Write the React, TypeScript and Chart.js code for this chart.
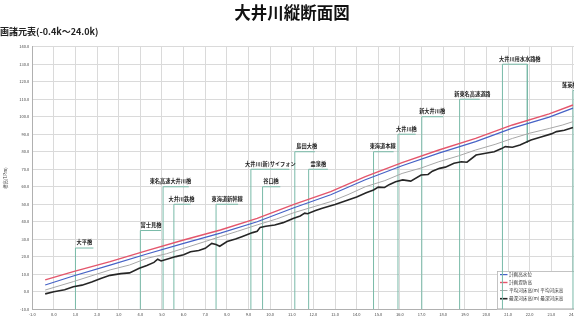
import React, { useEffect, useRef } from "react";
import { Chart, registerables } from "chart.js";

Chart.register(...registerables);

const FONT = '"Noto Sans CJK JP", "Noto Sans", sans-serif';

const chartTitle = "大井川縦断面図";
const subTitle = "画諸元表(-0.4k～24.0k)";
const yAxisTitle = "標高(T.P.m)";

const xMin = -1;
const xMax = 25;
const yMin = -10;
const yMax = 140;

// 計画堤防高 / 計画高水位
const planKm = [-0.4, 0.9, 2.6, 4.3, 6.0, 7.7, 9.4, 11.1, 12.8, 14.4, 16.1, 17.8, 19.5, 21.2, 22.9, 24.0];
const leveeHeight = [6.8, 11.5, 17.2, 23.5, 29.6, 35.3, 41.9, 49.9, 57.2, 65.8, 73.8, 81.0, 87.6, 95.3, 101.6, 106.7];
const highWater = [3.9, 9.0, 15.2, 21.6, 27.7, 33.5, 40.0, 48.0, 55.4, 64.0, 72.0, 79.2, 85.8, 93.5, 99.8, 104.9];

// 平均河床高
const avgBedKm = [-0.4, 0.9, 2.6, 3.5, 4.3, 5.2, 6.0, 7.7, 8.5, 9.4, 10.3, 11.1, 12.8, 13.6, 14.4, 15.3, 16.1, 17.0, 17.8, 18.7, 19.5, 20.4, 21.2, 22.0, 22.9, 23.5, 24.0];
const avgBed = [1.0, 5.8, 12.5, 15.3, 19.1, 21.7, 24.8, 31.5, 34.6, 38.2, 41.6, 45.2, 51.5, 55.5, 60.0, 63.5, 67.6, 70.8, 74.3, 77.6, 81.0, 84.2, 87.6, 90.6, 93.3, 95.2, 97.2];

// 最深河床高
const deepBedKm = [-0.4, 0.0, 0.5, 0.9, 1.3, 1.75, 2.2, 2.6, 3.1, 3.5, 3.95, 4.3, 4.63, 4.8, 4.96, 5.3, 5.64, 6.0, 6.32, 6.7, 7.0, 7.3, 7.5, 7.67, 8.01, 8.4, 8.69, 9.19, 9.4, 9.54, 9.8, 10.21, 10.6, 11.06, 11.39, 11.6, 11.73, 12.1, 12.41, 13.0, 13.6, 14.0, 14.44, 14.78, 15.0, 15.29, 15.5, 15.8, 16.13, 16.5, 16.98, 17.3, 17.5, 17.83, 18.1, 18.5, 18.84, 19.1, 19.52, 19.9, 20.36, 20.7, 20.87, 21.2, 21.55, 22.06, 22.56, 23.0, 23.24, 23.6, 24.0];
const deepBed = [-1.2, 0.0, 1.2, 2.9, 3.8, 5.6, 7.8, 9.4, 10.4, 10.8, 13.4, 15.0, 16.8, 18.6, 17.6, 18.9, 20.1, 21.2, 22.9, 23.6, 24.8, 27.6, 27.0, 26.0, 28.7, 30.2, 31.5, 33.8, 34.6, 36.8, 37.4, 38.2, 39.5, 41.9, 43.3, 44.9, 44.6, 46.4, 47.7, 49.8, 52.4, 54.2, 56.6, 58.2, 59.8, 59.6, 61.2, 62.9, 63.9, 63.2, 66.7, 67.0, 68.9, 70.5, 71.2, 73.4, 74.3, 74.0, 78.1, 79.0, 80.0, 81.8, 82.9, 82.6, 83.9, 86.7, 88.6, 90.2, 91.5, 92.3, 93.9];

const seriesLabels = ["計画高水位", "計画堤防高", "平均河床高(m) 平均河床高", "最深河床高(m) 最深河床高"];
const seriesColors = ["#4662c6", "#e4566c", "#a8a8a8", "#262626"];
const seriesWidths = [1.2, 1.4, 1.0, 1.6];

// 横断構造物
const structNames = ["大平橋", "富士見橋", "東名高速大井川橋", "大井川鉄橋", "東海道新幹線", "大井川(新)サイフォン", "谷口橋", "島田大橋", "霊泉橋", "東海道本線", "大井川橋", "新大井川橋", "新東名高速道路", "大井川用水水路橋", "蓬莱橋"];
const structKm = [1.0, 4.0, 5.05, 5.55, 7.5, 9.11, 9.65, 11.14, 11.78, 14.78, 15.91, 17.01, 18.76, 20.74, 24.0];
const structTop = [25, 35, 60, 50, 50, 70, 60, 80, 70, 80, 90, 100, 110, 130, 115];
const structEndKm = [1.83, 4.96, 6.24, 6.32, 8.52, 10.89, 10.47, 12.07, 12.67, 15.71, 16.73, 18.0, 19.69, 21.89, 25.3];
const structLabelKm = [1.41, 4.49, 5.39, 5.9, 8.01, 10.01, 10.04, 11.69, 12.23, 15.2, 16.3, 17.49, 19.35, 21.54, 23.85];
const structRightLeg: (number | null)[] = [null, null, null, null, null, null, null, null, null, null, null, null, null, 85, null];

const xy = (xs: number[], ys: number[]) => xs.map((x, i) => ({ x, y: ys[i] }));

const overlayPlugin = {
  id: "overlay",
  beforeDatasetsDraw(chart: any) {
    const ctx = chart.ctx;
    const area = chart.chartArea;
    const left = 497;
    const top = 271;
    ctx.save();
    ctx.fillStyle = "#ffffff";
    ctx.fillRect(left, top, 200, area.bottom - top);
    ctx.strokeStyle = "#b5b5b5";
    ctx.lineWidth = 0.8;
    ctx.strokeRect(left + 0.5, top + 0.5, 200, area.bottom - top - 1);
    const rows = [274.6, 282.5, 290.5, 298.7];
    ctx.font = `4.6px ${FONT}`;
    ctx.textBaseline = "middle";
    ctx.textAlign = "left";
    seriesLabels.forEach((lab, i) => {
      ctx.strokeStyle = seriesColors[i];
      ctx.lineWidth = seriesWidths[i];
      ctx.beginPath();
      ctx.moveTo(500, rows[i]);
      ctx.lineTo(507.5, rows[i]);
      ctx.stroke();
      ctx.fillStyle = "#333";
      ctx.fillText(lab, 509, rows[i]);
    });
    ctx.restore();
  },
  afterDatasetsDraw(chart: any) {
    const ctx = chart.ctx;
    const xs = chart.scales.x;
    const ys = chart.scales.y;
    ctx.save();
    ctx.font = `bold 5.2px ${FONT}`;
    ctx.fillStyle = "#222";
    ctx.textAlign = "center";
    ctx.textBaseline = "middle";
    structNames.forEach((n, i) => {
      const px = xs.getPixelForValue(structLabelKm[i]);
      const py = ys.getPixelForValue(structTop[i]) - 5.6;
      ctx.fillText(n, px, py);
    });
    ctx.restore();
  },
};

export default function App() {
  const ref = useRef<HTMLCanvasElement | null>(null);

  useEffect(() => {
    if (!ref.current) return;
    Chart.defaults.font.family = FONT;

    const lineDs = (label: string, data: any[], color: string, width: number) => ({
      label,
      data,
      borderColor: color,
      backgroundColor: color,
      borderWidth: width,
      pointRadius: 0,
      tension: 0,
      fill: false,
    });

    const structDs = structNames.map((n, i) => {
      const pts = [
        { x: structKm[i], y: yMin },
        { x: structKm[i], y: structTop[i] },
        { x: structEndKm[i], y: structTop[i] },
      ];
      const leg = structRightLeg[i];
      if (leg !== null) pts.push({ x: structEndKm[i], y: leg });
      return lineDs(n, pts, "#79baa8", 1);
    });

    const chart = new Chart(ref.current, {
      type: "line",
      data: {
        datasets: [
          lineDs(seriesLabels[1], xy(planKm, leveeHeight), seriesColors[1], seriesWidths[1]),
          lineDs(seriesLabels[0], xy(planKm, highWater), seriesColors[0], seriesWidths[0]),
          lineDs(seriesLabels[3], xy(deepBedKm, deepBed), seriesColors[3], seriesWidths[3]),
          lineDs(seriesLabels[2], xy(avgBedKm, avgBed), seriesColors[2], seriesWidths[2]),
          ...structDs,
        ],
      },
      options: {
        animation: false,
        responsive: false,
        devicePixelRatio: 1,
        events: [],
        layout: { padding: { left: 0, top: 46.7, right: 25.4, bottom: 0 } },
        plugins: {
          legend: { display: false },
          tooltip: { enabled: false },
          title: { display: false },
        },
        scales: {
          x: {
            type: "linear",
            min: xMin,
            max: xMax,
            afterFit: (s: any) => {
              s.height = 9.7;
            },
            grid: { color: "#dadada", lineWidth: 1, drawTicks: false },
            border: { color: "#b0b0b0", width: 1 },
            ticks: {
              stepSize: 1,
              autoSkip: false,
              maxRotation: 0,
              padding: 3,
              color: "#444",
              font: { size: 4, family: FONT },
              callback: (v: any) => Number(v).toFixed(1),
            },
          },
          y: {
            type: "linear",
            min: yMin,
            max: yMax,
            afterFit: (s: any) => {
              s.width = 32.2;
            },
            grid: { color: "#dadada", lineWidth: 1, drawTicks: false },
            border: { color: "#b0b0b0", width: 1 },
            title: {
              display: true,
              text: yAxisTitle,
              color: "#444",
              font: { size: 4.2, family: FONT },
              padding: { top: 2.5, bottom: 0 },
            },
            ticks: {
              stepSize: 10,
              padding: 3,
              color: "#444",
              font: { size: 4, family: FONT },
              callback: (v: any) => Number(v).toFixed(1),
            },
          },
        },
      },
      plugins: [overlayPlugin],
    } as any);

    return () => chart.destroy();
  }, []);

  return (
    <div
      style={{
        position: "fixed",
        left: 0,
        top: 0,
        width: 574,
        height: 319,
        overflow: "hidden",
        background: "#ffffff",
      }}
    >
      <canvas
        ref={ref}
        width={620}
        height={319}
        style={{ position: "absolute", left: 0, top: 0, width: 620, height: 319 }}
      />
      <div
        style={{
          position: "absolute",
          left: 292,
          top: 4,
          transform: "translateX(-50%)",
          whiteSpace: "nowrap",
          fontFamily: FONT,
          fontWeight: 700,
          fontSize: 16.5,
          lineHeight: "16.5px",
          color: "#111",
        }}
      >
        {chartTitle}
      </div>
      <div
        style={{
          position: "absolute",
          left: 0,
          top: 26.5,
          whiteSpace: "nowrap",
          fontFamily: FONT,
          fontWeight: 700,
          fontSize: 9,
          lineHeight: "9px",
          color: "#222",
        }}
      >
        {subTitle}
      </div>
    </div>
  );
}
